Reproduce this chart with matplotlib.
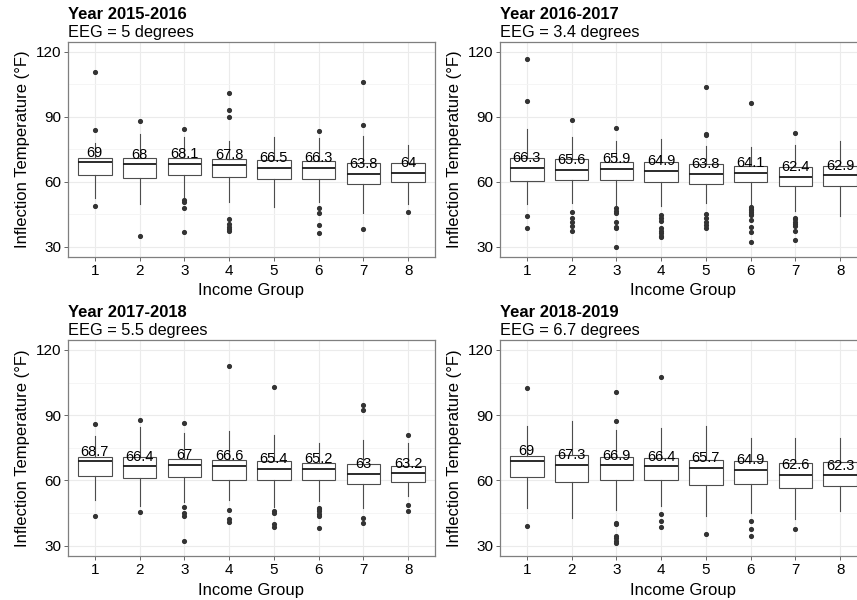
import matplotlib
matplotlib.use("Agg")
import matplotlib.pyplot as plt
from matplotlib.ticker import MultipleLocator

plt.rcParams['font.family'] = ['Liberation Sans', 'DejaVu Sans']

groups = [1, 2, 3, 4, 5, 6, 7, 8]
years = ["Year 2015-2016", "Year 2016-2017", "Year 2017-2018", "Year 2018-2019"]
eeg = ["EEG = 5 degrees", "EEG = 3.4 degrees", "EEG = 5.5 degrees", "EEG = 6.7 degrees"]

# medians (also the printed labels)
med_1516 = [69, 68, 68.1, 67.8, 66.5, 66.3, 63.8, 64]
med_1617 = [66.3, 65.6, 65.9, 64.9, 63.8, 64.1, 62.4, 62.9]
med_1718 = [68.7, 66.4, 67, 66.6, 65.4, 65.2, 63, 63.2]
med_1819 = [69, 67.3, 66.9, 66.4, 65.7, 64.9, 62.6, 62.3]

q1_1516 = [62.9, 61.5, 63.2, 62.0, 61.1, 61.4, 58.9, 59.7]
q3_1516 = [71.2, 70.8, 70.8, 70.6, 70.0, 69.4, 68.8, 68.5]
lo_1516 = [52.3, 49.7, 53.1, 50.8, 48.5, 50.8, 45.7, 49.5]
hi_1516 = [77.7, 82.0, 80.8, 78.8, 80.5, 80.0, 81.2, 76.8]
out_1516 = [[110.5, 83.8, 48.8], [88.3, 34.9], [84.2, 51.5, 50.8, 47.8, 36.8],
            [101.1, 93.2, 90.0, 42.6, 40.5, 38.9, 38.2, 37.4], [],
            [83.4, 48.0, 45.7, 40.2, 36.5], [106.0, 86.3, 38.3], [46.2]]

q1_1617 = [60.5, 60.6, 60.6, 60.0, 59.1, 59.8, 57.8, 58.0]
q3_1617 = [71.2, 70.3, 68.9, 68.9, 68.0, 67.1, 66.9, 67.5]
lo_1617 = [49.7, 50.0, 49.1, 48.9, 50.0, 48.5, 46.6, 44.3]
hi_1617 = [84.2, 80.8, 78.8, 79.7, 76.5, 76.0, 76.8, 78.8]
out_1617 = [[116.6, 97.5, 44.2, 38.6], [88.6, 46.2, 43.1, 41.5, 39.5, 37.2],
            [84.9, 47.7, 46.6, 45.4, 41.5, 39.2, 38.5, 30.0],
            [44.6, 43.4, 41.8, 38.8, 37.2, 36.2, 35.1, 34.3],
            [103.7, 82.0, 81.4, 45.1, 43.2, 41.5, 39.8, 38.8],
            [96.6, 48.2, 47.5, 46.8, 46.0, 45.2, 44.6, 42.3, 38.9, 36.9, 32.0],
            [82.3, 43.4, 42.6, 41.5, 40.3, 39.5, 37.2, 33.2], []]

q1_1718 = [62.2, 60.9, 61.5, 60.3, 60.0, 60.3, 58.5, 59.4]
q3_1718 = [70.9, 70.9, 70.0, 69.5, 69.1, 68.2, 67.7, 66.8]
lo_1718 = [50.8, 48.2, 50.0, 50.8, 47.7, 50.5, 47.4, 52.8]
hi_1718 = [80.6, 84.6, 82.0, 82.6, 80.8, 77.2, 78.5, 77.2]
out_1718 = [[86.0, 43.5], [87.7, 45.4], [86.3, 47.7, 45.1, 43.8, 32.3],
            [112.8, 46.5, 42.0, 40.8], [102.8, 45.7, 45.1, 40.0, 38.6],
            [47.4, 46.6, 45.7, 44.6, 43.5, 38.0], [94.5, 92.2, 42.6, 40.6],
            [80.9, 48.6, 45.8]]

q1_1819 = [61.7, 59.4, 60.0, 60.3, 58.0, 58.5, 56.6, 57.2]
q3_1819 = [71.4, 71.7, 70.9, 70.5, 69.5, 68.8, 68.2, 68.5]
lo_1819 = [47.4, 42.6, 46.2, 48.0, 43.8, 44.9, 42.3, 45.7]
hi_1819 = [84.8, 87.2, 83.1, 84.3, 84.8, 79.7, 79.7, 79.7]
out_1819 = [[102.5, 39.1], [], [100.6, 87.1, 40.2, 39.8, 34.5, 33.4, 32.2, 31.1],
            [107.5, 44.3, 41.2, 38.5], [35.1], [41.5, 37.8, 34.3], [37.8], []]

panels = [
    (med_1516, q1_1516, q3_1516, lo_1516, hi_1516, out_1516),
    (med_1617, q1_1617, q3_1617, lo_1617, hi_1617, out_1617),
    (med_1718, q1_1718, q3_1718, lo_1718, hi_1718, out_1718),
    (med_1819, q1_1819, q3_1819, lo_1819, hi_1819, out_1819),
]

# axes rectangles in pixels (left, top, right, bottom) on the 857x600 canvas
W, H = 857, 600
rects = [(68, 42, 435, 257), (500, 42, 867, 257),
         (68, 340, 435, 556), (500, 340, 867, 556)]

fig = plt.figure(figsize=(8.57, 6), dpi=100)

for i, (med, q1, q3, lo, hi, out) in enumerate(panels):
    l, t, r, b = rects[i]
    ax = fig.add_axes([l / W, 1 - b / H, (r - l) / W, (b - t) / H])
    stats = []
    for k in range(len(groups)):
        stats.append(dict(med=med[k], q1=q1[k], q3=q3[k], whislo=lo[k],
                          whishi=hi[k], fliers=out[k]))
    ax.bxp(stats, positions=groups, widths=0.75, patch_artist=True,
           boxprops=dict(facecolor='white', edgecolor='#4d4d4d', linewidth=0.8),
           medianprops=dict(color='#1a1a1a', linewidth=1.3),
           whiskerprops=dict(color='#4d4d4d', linewidth=0.8),
           capprops=dict(linewidth=0),
           flierprops=dict(marker='o', markersize=2.7, markerfacecolor='#333333',
                           markeredgecolor='#333333'),
           zorder=3)
    for k, g in enumerate(groups):
        ax.annotate(f"{med[k]:g}", (g, med[k]), xytext=(0, 7), textcoords='offset points',
                    ha='center', va='center', fontsize=10.5, color='black', zorder=5)

    ax.set_xlim(0.4, 8.6)
    ax.set_ylim(25.2, 124.6)
    ax.yaxis.set_major_locator(MultipleLocator(30))
    ax.yaxis.set_minor_locator(MultipleLocator(15))
    ax.set_xticks(groups)
    ax.set_xticklabels([str(g) for g in groups])
    ax.grid(True, which='major', color='#ebebeb', linewidth=0.8, zorder=0)
    ax.grid(True, which='minor', axis='y', color='#f4f4f4', linewidth=0.6, zorder=0)
    ax.set_axisbelow(True)
    ax.tick_params(axis='both', which='major', labelsize=11, colors='#4d4d4d',
                   length=3, width=0.6, labelcolor='black', pad=2)
    ax.tick_params(axis='y', which='minor', length=0)
    for s in ax.spines.values():
        s.set_color('#7f7f7f')
        s.set_linewidth(0.9)
    ax.set_xlabel("Income Group", fontsize=12, labelpad=4)
    ax.set_ylabel("Inflection Temperature (°F)", fontsize=12, labelpad=4)

    fig.text(l / W, 1 - (t - 23) / H, years[i], fontsize=11.9, fontweight='bold',
             ha='left', va='baseline')
    fig.text(l / W, 1 - (t - 5) / H, eeg[i], fontsize=11.8,
             ha='left', va='baseline')

plt.savefig("out.png", dpi=100)
